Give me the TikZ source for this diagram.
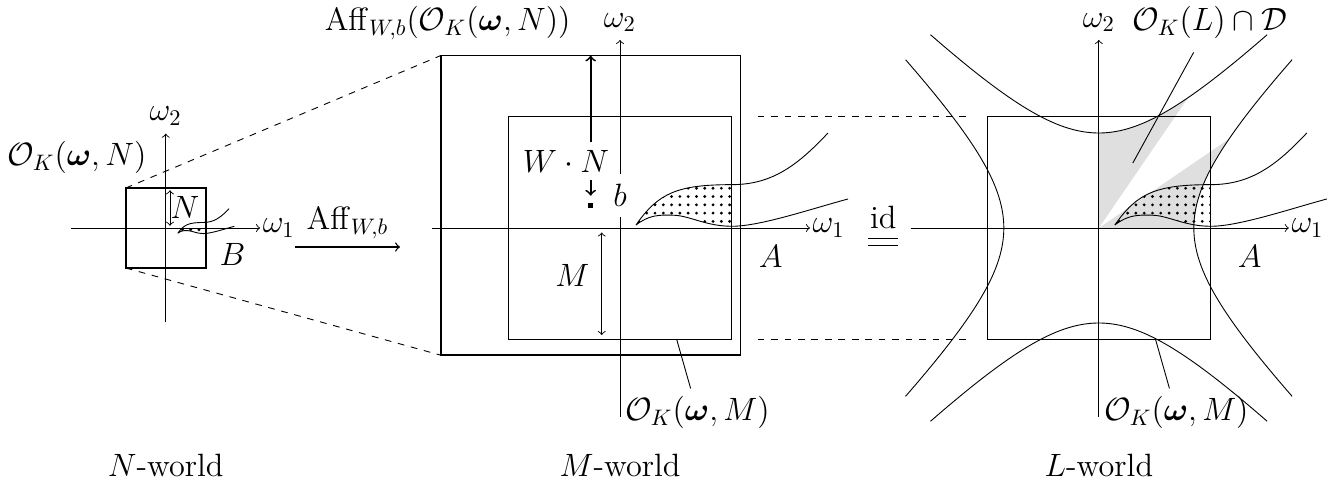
\documentclass[tikz,border=0pt]{standalone}
\usepackage{amsmath,amssymb}
\usepackage{tikz}
\usetikzlibrary{patterns.meta}
\newcommand{\OK}{\mathcal{O}_K}
\newcommand{\bw}{\boldsymbol{\omega}}
% the region A (dotted part) and its two boundary curves
\newcommand{\blobedge}{(0.251,0.047) .. controls (0.6,0.55) and (0.9,0.68) .. (1.757,0.68) -- (1.757,0.027) .. controls (1.35,0.027) and (1.1,0.19) .. (0.85,0.2) .. controls (0.6,0.21) and (0.45,0.2) .. (0.251,0.047) -- cycle}
\newcommand{\blobcurves}{(0.251,0.047) .. controls (0.6,0.55) and (0.9,0.68) .. (1.757,0.68) .. controls (2.4,0.68) and (2.8,1.0) .. (3.262,1.49) (0.251,0.047) .. controls (0.45,0.2) and (0.6,0.21) .. (0.85,0.2) .. controls (1.1,0.19) and (1.35,0.027) .. (1.757,0.027) .. controls (2.2,0.027) and (3.0,0.3) .. (3.576,0.455)}

\begin{document}
\begin{tikzpicture}[font=\Large,
  box/.style={draw, inner sep=0pt, outer sep=0pt, minimum size=#1},
  dotfill/.style={pattern={Dots[distance=3.7pt, radius=0.7pt]}},
  wlab/.style={right, inner sep=1pt},
  toplab/.style={anchor=base, inner sep=0.5pt},
  hyp/.style={domain=-2.64:2.64, samples=60, smooth}]
\useasboundingbox (-9.724,-4.188) rectangle (11.277,3.576);

% N-world
\begin{scope}[shift={(-7.125,0)}]
  \begin{scope}[scale=0.2668, shift={(0.46,-0.355)}]
    \fill[dotfill] \blobedge;
    \draw \blobcurves;
  \end{scope}
  \draw[->] (-1.48,0) -- (1.48,0) node[wlab] (w1n) {$\omega_1$};
  \draw[->] (0,-1.48) -- (0,1.48) node[above] (w2n) {$\omega_2$};
  \node[box=1.254cm, thick] (nbox) at (0,0) {};
  \coordinate (n0) at (0.067,0);
  \draw[<->, shorten <=1pt, shorten >=1pt] (n0) -- (n0 |- nbox.north);
  \node (nlab) at (0.303,0.32) {$N$};
  \node (blab) at (1.048,-0.408) {$B$};
  \node (okn) at (-1.395,1.105) {$\OK(\bw,N)$};
  \node (nworld) at (0,-3.717) {$N$-world};
\end{scope}

% map N -> M
\coordinate (affs) at (-5.097,-0.298);
\coordinate (affe) at (-3.45,-0.298);
\draw[->, semithick] (affs) -- node[above] (afflab) {$\operatorname{Aff}_{W,b}$} (affe);

% M-world
\fill[dotfill] \blobedge;
\draw \blobcurves;
\draw[->] (-2.95,0) -- (2.98,0) node[wlab] (w1m) {$\omega_1$};
\draw[->] (0,-2.96) -- (0,2.95) node[above] (w2m) {$\omega_2$};
\node[box=3.5cm] (inner) at (0,0) {};
\node[box=4.7cm, thick] (outer) at (-0.46,0.355) {};
\node[fill, inner sep=0pt, minimum size=2.2pt] (b) at (-0.46,0.355) {};
\node[fill=white, inner sep=4.8pt] (bname) at (0,0.51) {$b$};
\node (wn) at (-0.847,1.05) {$W\cdot N$};
\draw[->, thick] (wn.north -| b) -- (b |- outer.north);
\draw[->, thick, shorten >=3pt] (wn.south -| b) -- (b);
\coordinate (m0) at (-0.287,0);
\draw[<->, shorten <=2pt, shorten >=2pt] (m0) -- (m0 |- inner.south);
\node (mlab) at (-0.748,-0.75) {$M$};
\node (alab) at (2.365,-0.45) {$A$};
\node (okm) at (1.215,-2.893) {$\OK(\bw,M)$};
\coordinate (pm) at (0.89,-1.75);
\draw (okm) -- (pm);
\node[toplab, anchor=base east] (aff) at (-0.753,3.09) {$\operatorname{Aff}_{W,b}(\OK(\bw,N))$};
\node (mworld) at (0,-3.717) {$M$-world};

% M = L on the box
\node (id) at (4.13,0.165) {id};
\coordinate (eqa) at (3.895,-0.22);
\coordinate (eqb) at (4.365,-0.22);
\draw[double, double distance=2.9pt, line width=0.5pt] (eqa) -- (eqb);

% L-world
\begin{scope}[shift={(7.51,0)}]
  \fill[gray!25] (0,0) -- plot[domain=0:1.4, samples=30] (\x,{sqrt(2.2201+(\x)^2)}) -- cycle;
  \fill[gray!25] (0,0) -- plot[domain=0:1.4, samples=30] ({sqrt(2.2201+(\x)^2)},\x) -- cycle;
  \fill[dotfill] \blobedge;
  \draw \blobcurves;
  \draw[->] (-2.95,0) -- (2.98,0) node[wlab] (w1l) {$\omega_1$};
  \draw[->] (0,-2.96) -- (0,2.95) node[above] (w2l) {$\omega_2$};
  \node[box=3.5cm] (rbox) at (0,0) {};
  \draw plot[hyp] (\x,{sqrt(2.2201+(\x)^2)});
  \draw plot[hyp] (\x,{-sqrt(2.2201+(\x)^2)});
  \draw plot[hyp] ({sqrt(2.2201+(\x)^2)},\x);
  \draw plot[hyp] ({-sqrt(2.2201+(\x)^2)},\x);
  \node (alab2) at (2.365,-0.45) {$A$};
  \node (okm2) at (1.215,-2.893) {$\OK(\bw,M)$};
  \coordinate (pm2) at (0.89,-1.75);
  \draw (okm2) -- (pm2);
  \node[toplab] (okd) at (1.741,3.09) {$\OK(L)\cap\mathcal{D}$};
  \coordinate (pd) at (0.533,1.019);
  \draw[shorten <=6pt] (okd) -- (pd);
  \node (lworld) at (0,-3.717) {$L$-world};
\end{scope}

\draw[dashed] (nbox.north west) -- (outer.north west);
\draw[dashed] (nbox.south west) -- (outer.south west);
\draw[dashed, shorten <=0.27cm, shorten >=0.28cm] (inner.north east -| outer.east) -- (rbox.north west);
\draw[dashed, shorten <=0.27cm, shorten >=0.28cm] (inner.south east -| outer.east) -- (rbox.south west);
\end{tikzpicture}
\end{document}
